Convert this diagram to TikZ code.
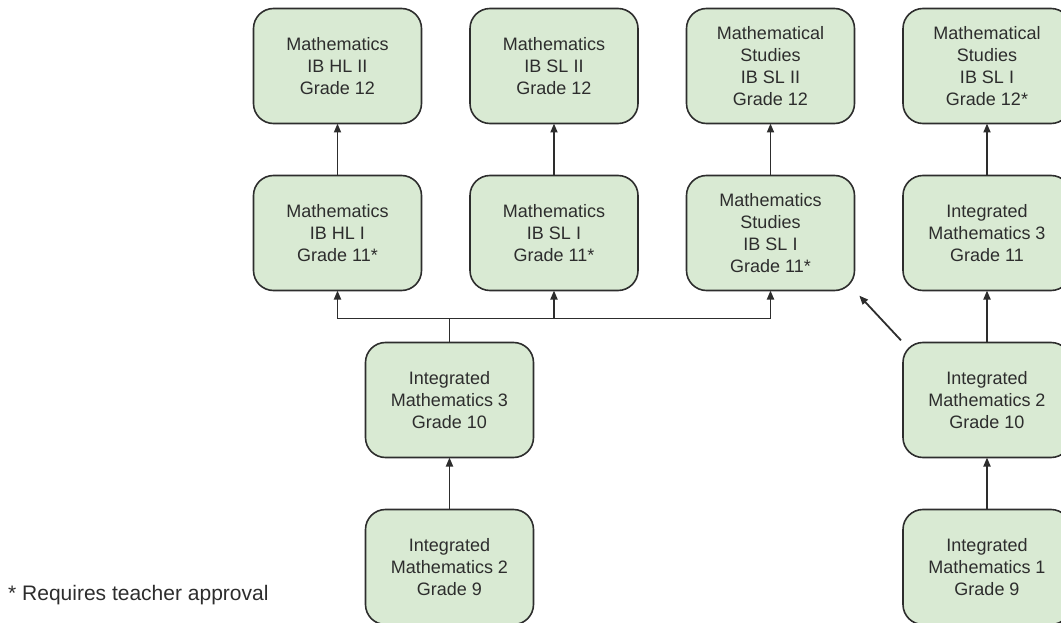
\documentclass[tikz,border=0pt]{standalone}
\usepackage{fontspec}
\setmainfont{Liberation Sans}
\usetikzlibrary{arrows.meta, positioning}
\definecolor{boxgreen}{RGB}{217, 234, 211}
\definecolor{edgegray}{RGB}{45, 45, 45}

\begin{document}
\begin{tikzpicture}[x=1pt, y=-1pt,
            course/.style={draw=edgegray, line width=1.6pt, fill=boxgreen, rounded corners=20pt, minimum width=168pt, minimum height=115pt, inner sep=0pt, outer sep=0pt, align=center, text=edgegray, font=\fontsize{18}{22}\selectfont},
            link/.style={draw=edgegray, line width=1.8pt, -{Triangle[length=9pt, width=7pt]}}
        ]
            \useasboundingbox (0,0) rectangle (1061,623);
            % grade 12
            \node[course] (hl2) at (337.5,66) {Mathematics \\ IB HL II \\ Grade 12};
            \node[course, right=48.5pt of hl2] (sl2) {Mathematics \\ IB SL II \\ Grade 12};
            \node[course, right=48.5pt of sl2] (ms2) {Mathematical \\ Studies \\ IB SL II \\ Grade 12};
            \node[course, right=48.5pt of ms2] (ms1b) {Mathematical \\ Studies \\ IB SL I \\ Grade 12*};
            % grade 11
            \node[course, below=52pt of hl2] (hl1) {Mathematics \\ IB HL I \\ Grade 11*};
            \node[course, below=52pt of sl2] (sl1) {Mathematics \\ IB SL I \\ Grade 11*};
            \node[course, below=52pt of ms2] (ms1) {Mathematics \\ Studies \\ IB SL I \\ Grade 11*};
            \node[course, below=52pt of ms1b] (int3b) {Integrated \\ Mathematics 3 \\ Grade 11};
            % grades 9 and 10
            \node[course] (int3) at (449.5,400) {Integrated \\ Mathematics 3 \\ Grade 10};
            \node[course, below=52pt of int3] (int2) {Integrated \\ Mathematics 2 \\ Grade 9};
            \node[course, below=52pt of int3b] (int2b) {Integrated \\ Mathematics 2 \\ Grade 10};
            \node[course, below=52pt of int2b] (int1) {Integrated \\ Mathematics 1 \\ Grade 9};
            \node[anchor=west, inner sep=0pt, text=edgegray, font=\fontsize{21}{25}\selectfont] (note) at (8,595) {* Requires teacher approval};

            \draw[link] (hl1) -- (hl2);
            \draw[link] (sl1) -- (sl2);
            \draw[link] (ms1) -- (ms2);
            \draw[link] (int3b) -- (ms1b);
            \draw[link] (int2b) -- (int3b);
            \draw[link] (int1) -- (int2b);
            \draw[link] (int2) -- (int3);
            \draw[draw=edgegray, line width=1.8pt] (int3.north) -- ++(0,-24) coordinate (fork);
            \draw[link] (fork) -| (hl1.south);
            \draw[link] (fork) -| (sl1.south);
            \draw[link] (fork) -| (ms1.south);
            \draw[link, shorten <=3pt, shorten >=7pt] (int2b.north west) -- (ms1.south east);
        \end{tikzpicture}
\end{document}
